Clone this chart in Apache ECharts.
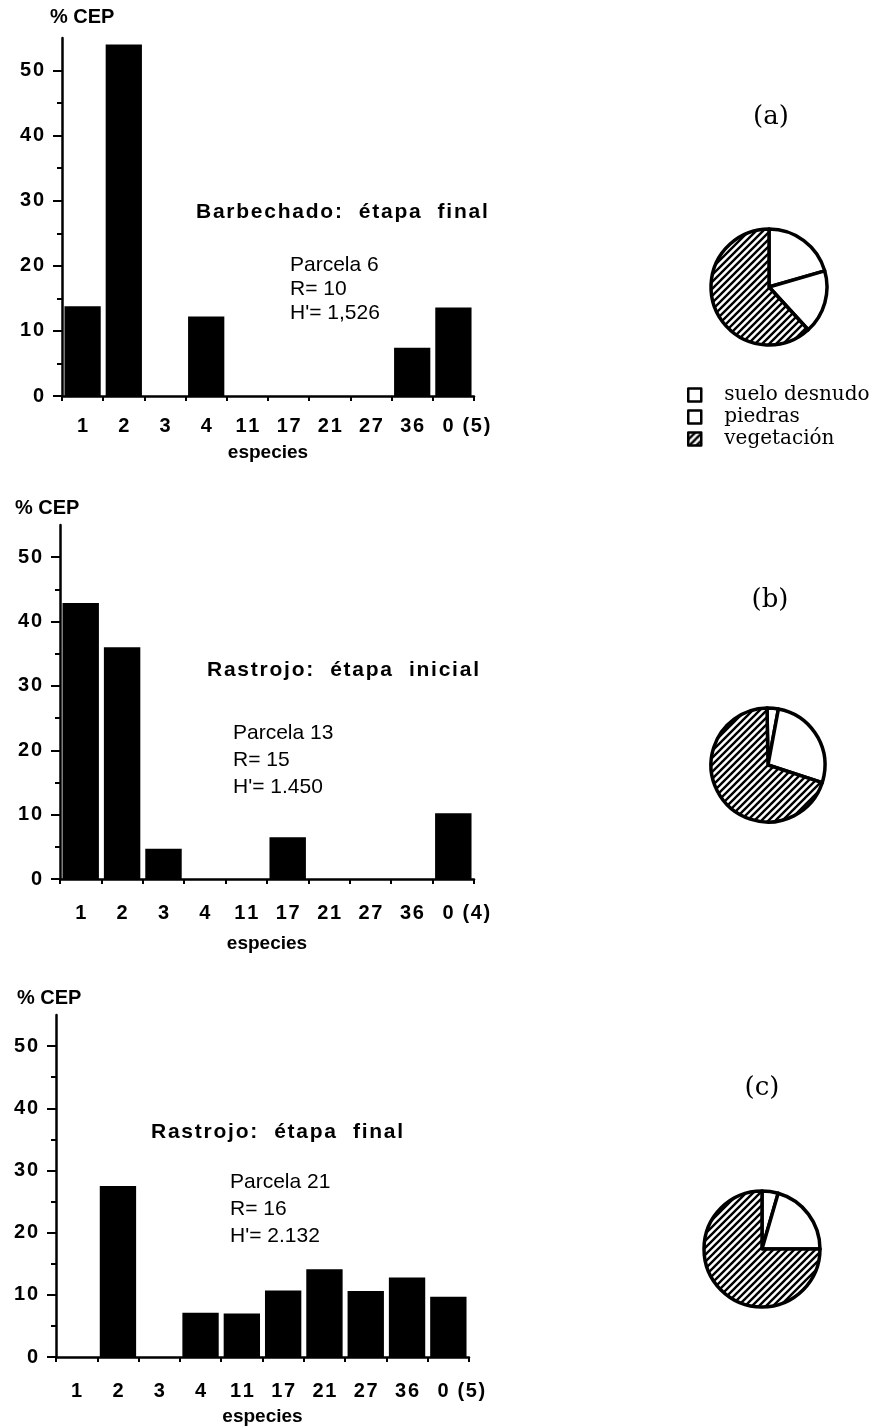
<!DOCTYPE html>
<html>
<head>
<meta charset="utf-8">
<title>% CEP por especies</title>
<script src="https://cdn.jsdelivr.net/npm/echarts@6/dist/echarts.min.js"></script>
<style>
  html, body { margin: 0; padding: 0; background: #fff; }
  #main { width: 877px; height: 1428px; }
</style>
</head>
<body>
<div id="main"></div>
<script>
// Species categories on the x axis of each panel
const categoriesA = ['1', '2', '3', '4', '11', '17', '21', '27', '36', '0 (5)'];
const categoriesB = ['1', '2', '3', '4', '11', '17', '21', '27', '36', '0 (4)'];
const categoriesC = ['1', '2', '3', '4', '11', '17', '21', '27', '36', '0 (5)'];

// % CEP per species
const cepA = [13.8, 54.0, 0, 12.2, 0, 0, 0, 0, 7.4, 13.6];
const cepB = [42.9, 36.0, 4.7, 0, 0, 6.5, 0, 0, 0, 10.2];
const cepC = [0, 27.5, 0, 7.1, 7.0, 10.7, 14.1, 10.6, 12.8, 9.7];

// Y axis ticks
const yMax = 55;
const yTicks = [0, 10, 20, 30, 40, 50];
const yMinorTicks = [5, 15, 25, 35, 45];

// Ground cover (%): suelo desnudo, piedras, vegetación
const groundNames = ['suelo desnudo', 'piedras', 'vegetación'];
const groundA = [20.5, 17.7, 61.8];
const groundB = [3.2, 27.1, 69.7];
const groundC = [4.5, 20.5, 75.0];

// Panel texts
const panelTitles = ['Barbechado:  étapa  final', 'Rastrojo:  étapa  inicial', 'Rastrojo:  étapa  final'];
const panelInfo = [
  ['Parcela 6', 'R= 10', "H'= 1,526"],
  ['Parcela 13', 'R= 15', "H'= 1.450"],
  ['Parcela 21', 'R= 16', "H'= 2.132"]
];
const panelTags = ['(a)', '(b)', '(c)'];

const SANS = '"Liberation Sans", Arial, sans-serif';
const SERIF = '"DejaVu Serif", serif';

// Diagonal hatch used for the vegetation slices
function hatchPattern() {
  const s = 7;
  const c = document.createElement('canvas');
  c.width = s; c.height = s;
  const g = c.getContext('2d');
  g.fillStyle = '#fff';
  g.fillRect(0, 0, s, s);
  g.strokeStyle = '#000';
  g.lineWidth = 2.4;
  g.beginPath();
  g.moveTo(-1, s + 1); g.lineTo(s + 1, -1);
  g.moveTo(-2, 2); g.lineTo(2, -2);
  g.moveTo(s - 2, s + 2); g.lineTo(s + 2, s - 2);
  g.stroke();
  return { image: c, repeat: 'repeat' };
}
const hatch = hatchPattern();
const groundFills = ['#fff', '#fff', hatch];

// loose letter tracking
function spaced(v) {
  return String(v).split('').join('\u200A');
}

const grids = [
  { left: 62, top: 38, width: 412, height: 358 },
  { left: 60, top: 525, width: 414, height: 354 },
  { left: 56, top: 1015, width: 413, height: 342 }
];
const categorySets = [categoriesA, categoriesB, categoriesC];
const cepSets = [cepA, cepB, cepC];
const labelMargins = [20, 24, 24];
const nameGaps = [47, 55, 50];

const xAxes = [], yAxes = [], series = [];
grids.forEach((g, i) => {
  const cats = categorySets[i];
  xAxes.push({
    type: 'category',
    gridIndex: i,
    data: cats.map((c, k) => k === cats.length - 1
      ? { value: c, textStyle: { padding: [0, 0, 0, 26] } }
      : c),
    axisLine: { lineStyle: { color: '#000', width: 2.5 } },
    axisTick: { show: true, length: 5, lineStyle: { color: '#000', width: 2 } },
    axisLabel: {
      color: '#000', fontFamily: SANS, fontSize: 20, fontWeight: 'bold',
      margin: labelMargins[i], formatter: spaced, interval: 0
    },
    name: 'especies',
    nameLocation: 'middle',
    nameGap: nameGaps[i],
    nameTextStyle: { color: '#000', fontFamily: SANS, fontSize: 19, fontWeight: 'bold' },
    splitLine: { show: false }
  });
  // main value axis
  yAxes.push({
    type: 'value',
    gridIndex: i,
    position: 'left',
    min: 0, max: yMax, interval: 10,
    axisLine: { show: true, lineStyle: { color: '#000', width: 2.5 } },
    axisTick: { show: true, length: 9, customValues: yTicks, lineStyle: { color: '#000', width: 2 } },
    axisLabel: {
      color: '#000', fontFamily: SANS, fontSize: 20, fontWeight: 'bold', margin: 18,
      customValues: yTicks, formatter: spaced
    },
    splitLine: { show: false }
  });
  // minor ticks at the fives
  yAxes.push({
    type: 'value',
    gridIndex: i,
    position: 'left',
    offset: 0,
    min: 0, max: yMax, interval: 5,
    axisLine: { show: false },
    axisTick: { show: true, length: 5, customValues: yMinorTicks, lineStyle: { color: '#000', width: 2 } },
    axisLabel: { show: false },
    splitLine: { show: false }
  });
  series.push({
    type: 'bar',
    xAxisIndex: i,
    yAxisIndex: i * 2,
    data: cepSets[i],
    barCategoryGap: '12%',
    itemStyle: { color: '#000' },
    silent: true
  });
});

const pieCenters = [[769, 287], [768, 765], [762, 1249]];
const pieRadii = [58, 57, 58];
const pieStarts = [90, 91, 90];
const groundSets = [groundA, groundB, groundC];
groundSets.forEach((vals, i) => {
  series.push({
    type: 'pie',
    center: pieCenters[i],
    radius: pieRadii[i],
    startAngle: pieStarts[i],
    clockwise: true,
    silent: true,
    label: { show: false },
    labelLine: { show: false },
    itemStyle: { borderColor: '#000', borderWidth: 3.5 },
    data: vals.map((v, k) => ({ name: groundNames[k], value: v, itemStyle: { color: groundFills[k] } }))
  });
});

const graphic = [];
const cepLabelPos = [[50, 17], [15, 508], [17, 998]];
cepLabelPos.forEach(p => {
  graphic.push({ type: 'text', x: p[0], y: p[1], style: { text: '% CEP', font: 'bold 20px ' + SANS, fill: '#000', verticalAlign: 'middle' } });
});
const titlePos = [[196, 212], [207, 670], [151, 1132]];
const infoPos = [[290, 265], [233, 733], [230, 1182]];
const infoGap = [24, 27, 27];
panelTitles.forEach((t, i) => {
  graphic.push({ type: 'text', x: titlePos[i][0], y: titlePos[i][1], style: { text: spaced(t), font: 'bold 21px ' + SANS, fill: '#000', verticalAlign: 'middle' } });
  panelInfo[i].forEach((line, k) => {
    graphic.push({ type: 'text', x: infoPos[i][0], y: infoPos[i][1] + k * infoGap[i], style: { text: line, font: '21px ' + SANS, fill: '#000', verticalAlign: 'middle' } });
  });
});
const tagPos = [[771, 117], [770, 600], [762, 1088]];
panelTags.forEach((t, i) => {
  graphic.push({ type: 'text', x: tagPos[i][0], y: tagPos[i][1], style: { text: t, font: '26px ' + SERIF, fill: '#000', align: 'center', verticalAlign: 'middle' } });
});

const chart = echarts.init(document.getElementById('main'));
chart.setOption({
  backgroundColor: '#fff',
  animation: false,
  grid: grids,
  xAxis: xAxes,
  yAxis: yAxes,
  series: series,
  legend: {
    data: groundNames,
    orient: 'vertical',
    left: 687,
    top: 385,
    padding: 0,
    icon: 'rect',
    itemWidth: 13,
    itemHeight: 13,
    itemGap: 2,
    selectedMode: false,
    itemStyle: { borderColor: '#000', borderWidth: 2.5 },
    textStyle: { color: '#000', fontFamily: SERIF, fontSize: 20, lineHeight: 20, padding: [0, 0, 0, 18] }
  },
  graphic: graphic
});
</script>
</body>
</html>
